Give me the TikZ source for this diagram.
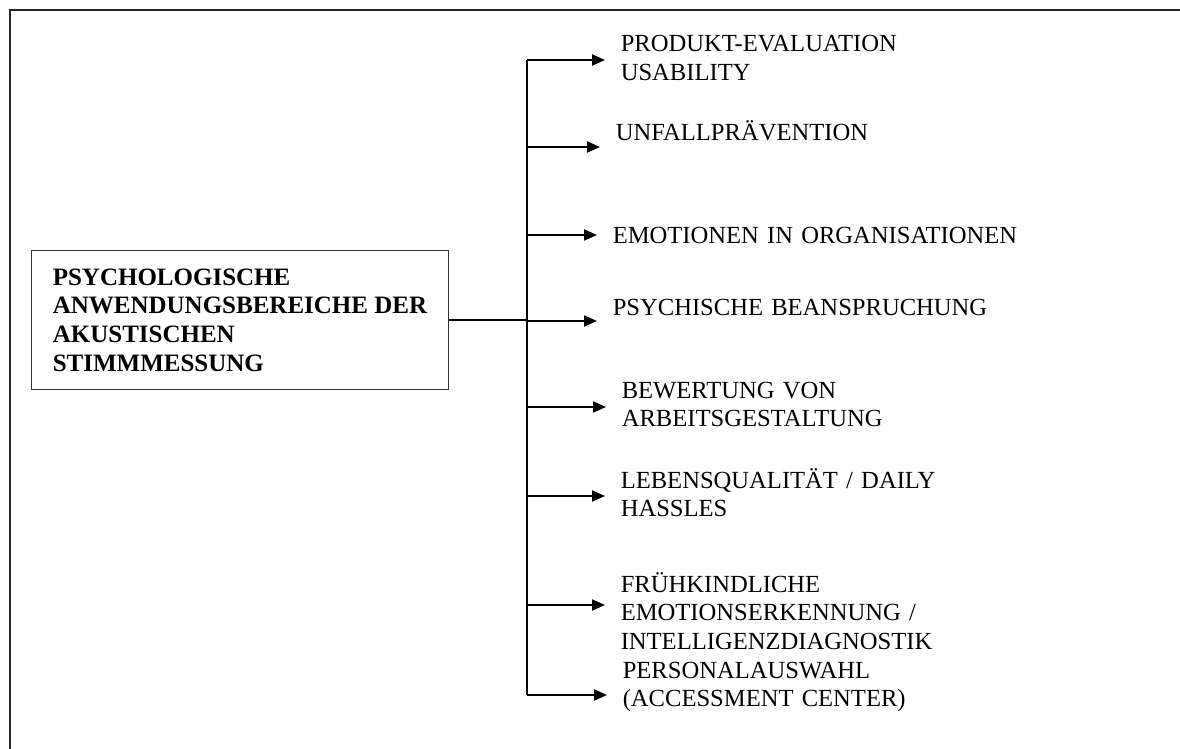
\documentclass[tikz,border=0pt]{standalone}
\usepackage{fontspec}
\setmainfont{Liberation Serif}
\usetikzlibrary{arrows.meta}

\tikzset{every picture/.style={line width=0.75pt}}
\tikzset{
  branch/.style={line width=1pt,shorten >=7.5pt,-{Triangle[length=6.5pt,width=5.5pt]}},
  area/.style={anchor=base west,inner sep=0pt,text width=230pt,align=left,font=\fontsize{12.3}{14.25}\selectfont},
}

\begin{document}
\begin{tikzpicture}[x=0.5pt,y=0.5pt,yscale=-1,xscale=1]
\useasboundingbox (0,0) rectangle (1180,749);

%Frame
\draw [color=black!85,line width=0.9pt] (10,749) -- (10,10) -- (1180,10);

%Main box
\node (root) [draw=black!80,line width=0.5pt,anchor=north west,minimum width=208.5pt,minimum height=69.5pt,inner sep=0pt,align=left,font=\bfseries\fontsize{12.5}{14.35}\selectfont] at (31,250) {PSYCHOLOGISCHE\\ANWENDUNGSBEREICHE DER\\AKUSTISCHEN\\STIMMMESSUNG};

% Text Node
\node (t1) [area] at (620,52) {PRODUKT-EVALUATION\\USABILITY};
% Text Node
\node (t2) [area] at (615,141) {UNFALLPRÄVENTION};
% Text Node
\node (t3) [area] at (612,243) {EMOTIONEN IN ORGANISATIONEN};
% Text Node
\node (t4) [area] at (612,315) {PSYCHISCHE BEANSPRUCHUNG};
% Text Node
\node (t5) [area] at (621,398) {BEWERTUNG VON\\ARBEITSGESTALTUNG};
% Text Node
\node (t6) [area] at (620,488) {LEBENSQUALITÄT / DAILY\\HASSLES};
% Text Node
\node (t7) [area] at (620,592) {FRÜHKINDLICHE\\EMOTIONSERKENNUNG /\\INTELLIGENZDIAGNOSTIK};
% Text Node
\node (t8) [area] at (622,678) {PERSONALAUSWAHL\\(ACCESSMENT CENTER)};

%Trunk points
\coordinate (j) at (527,320);
\coordinate (b1) at (527,60);
\coordinate (b2) at (527,147);
\coordinate (b3) at (527,235);
\coordinate (b4) at (527,321);
\coordinate (b5) at (527,407);
\coordinate (b6) at (527,496);
\coordinate (b7) at (527,605);
\coordinate (b8) at (527,695);

%Straight Lines
\draw [line width=1.3pt] (root.east) -- (j);
\draw [line width=1.1pt] (b1) -- (b8);

%Arrows
\draw [branch] (b1) -- (b1 -| t1.west);
\draw [branch] (b2) -- (b2 -| t2.west);
\draw [branch] (b3) -- (b3 -| t3.west);
\draw [branch] (b4) -- (b4 -| t4.west);
\draw [branch] (b5) -- (b5 -| t5.west);
\draw [branch] (b6) -- (b6 -| t6.west);
\draw [branch] (b7) -- (b7 -| t7.west);
\draw [branch] (b8) -- (b8 -| t8.west);

\end{tikzpicture}
\end{document}
